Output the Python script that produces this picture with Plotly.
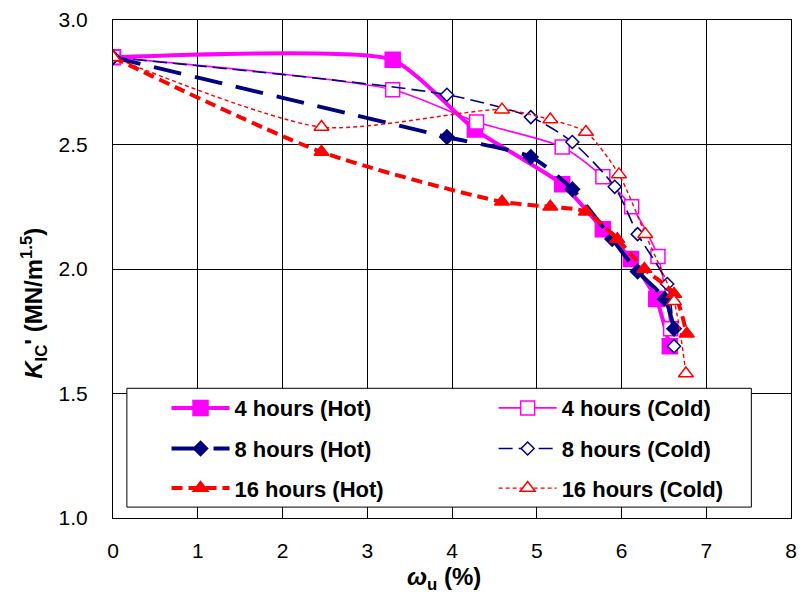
import plotly.graph_objects as go

# Fracture toughness K_IC' versus moisture content for each conditioning series
h4_hot_x = [0.00, 3.30, 4.27, 5.30, 5.78, 6.11, 6.41, 6.57]
h4_hot_y = [2.85, 2.84, 2.56, 2.34, 2.16, 2.04, 1.88, 1.69]

h4_cold_x = [0.00, 3.30, 4.29, 5.30, 5.78, 6.12, 6.43, 6.58]
h4_cold_y = [2.85, 2.72, 2.59, 2.49, 2.37, 2.25, 2.05, 1.76]

h8_hot_x = [0.00, 3.94, 4.93, 5.42, 5.89, 6.19, 6.51, 6.62]
h8_hot_y = [2.85, 2.53, 2.45, 2.32, 2.12, 1.99, 1.88, 1.76]

h8_cold_x = [0.00, 3.94, 4.93, 5.42, 5.92, 6.19, 6.54, 6.62]
h8_cold_y = [2.85, 2.70, 2.61, 2.51, 2.33, 2.14, 1.94, 1.69]

h16_hot_x = [0.00, 2.46, 4.59, 5.16, 5.58, 5.95, 6.27, 6.62, 6.77]
h16_hot_y = [2.85, 2.47, 2.27, 2.25, 2.23, 2.12, 2.00, 1.90, 1.74]

h16_cold_x = [0.00, 2.46, 4.59, 5.16, 5.58, 5.97, 6.28, 6.62, 6.76]
h16_cold_y = [2.85, 2.57, 2.64, 2.60, 2.55, 2.38, 2.14, 1.87, 1.58]

x_ticks = [0, 1, 2, 3, 4, 5, 6, 7, 8]
y_ticks = [1.0, 1.5, 2.0, 2.5, 3.0]

MAGENTA = "#FF00FF"
NAVY = "#000080"
RED = "#FF0000"
FONT = "Liberation Sans, Arial, sans-serif"

# plot area in pixels: x 113..797, y 15..518
def px_x(p):
    return (p - 113) / 684.0

def px_y(p):
    return (518 - p) / 503.0

# legend entry slots: (left pixel, row centre pixel)
COL1, COL2 = 167, 497
ROW1, ROW2, ROW3 = 407, 448, 488

# name, x, y, colour, line width, dash, marker symbol, marker size, filled, smoothing, legend slot
series = [
    ("4 hours (Hot)", h4_hot_x, h4_hot_y, MAGENTA, 4, "solid", "square", 15, True, 0.5, (COL1, ROW1)),
    ("4 hours (Cold)", h4_cold_x, h4_cold_y, MAGENTA, 1.6, "solid", "square", 14, False, 0.7, (COL2, ROW1)),
    ("8 hours (Hot)", h8_hot_x, h8_hot_y, NAVY, 4, "28px,14px", "diamond", 11, True, 0.7, (COL1, ROW2)),
    ("8 hours (Cold)", h8_cold_x, h8_cold_y, NAVY, 1.6, "14px,6px", "diamond", 10, False, 0.7, (COL2, ROW2)),
    ("16 hours (Hot)", h16_hot_x, h16_hot_y, RED, 4, "11px,6px", "triangle-up", 13, True, 0.7, (COL1, ROW3)),
    ("16 hours (Cold)", h16_cold_x, h16_cold_y, RED, 1.4, "4px,3px", "triangle-up", 13, False, 0.7, (COL2, ROW3)),
]

fig = go.Figure()
legends = {}
for i, (name, xs, ys, color, width, dash, symbol, size, filled, smooth, slot) in enumerate(series):
    leg = "legend" if i == 0 else f"legend{i + 1}"
    legends[leg] = dict(
        x=px_x(slot[0]), y=px_y(slot[1]), xanchor="left", yanchor="middle",
        orientation="v", bgcolor="rgba(0,0,0,0)", borderwidth=0,
        font=dict(family=FONT, size=22, color="black", weight="bold"),
        itemwidth=58,
    )
    fig.add_trace(go.Scatter(
        x=xs, y=ys, name=name, mode="lines+markers", legend=leg,
        line=dict(color=color, width=width, dash=dash, shape="spline", smoothing=smooth),
        marker=dict(symbol=symbol, size=size, color=color if filled else "white",
                    line=dict(color=color, width=1.5)),
    ))

axis_common = dict(
    showgrid=True, gridcolor="black", gridwidth=1,
    showline=True, linecolor="black", linewidth=1, mirror=True,
    zeroline=False, ticks="", tickfont=dict(family=FONT, size=21, color="black"),
)

fig.update_layout(
    width=805, height=606,
    margin=dict(l=113, r=8, t=15, b=88),
    paper_bgcolor="white", plot_bgcolor="white",
    font=dict(family=FONT, color="black"),
    xaxis=dict(range=[0, 8], tickvals=x_ticks, ticktext=[str(v) for v in x_ticks],
               ticklabelstandoff=14, **axis_common),
    yaxis=dict(range=[1.0, 3.0], tickvals=y_ticks, ticktext=[f"{v:.1f}" for v in y_ticks],
               ticklabelstandoff=20, **axis_common),
    showlegend=True,
    shapes=[dict(type="rect", xref="paper", yref="paper", layer="above",
                 x0=px_x(127), x1=px_x(757), y0=px_y(507), y1=px_y(387),
                 fillcolor="white", line=dict(color="black", width=1))],
    annotations=[
        dict(text="<b><i>ω</i><sub>u</sub> (%)</b>", x=px_x(447), y=px_y(579),
             xref="paper", yref="paper", xanchor="center", yanchor="middle",
             showarrow=False, font=dict(family=FONT, size=24)),
        dict(text="<b><i>K</i><sub>IC</sub>' (MN/m<sup>1.5</sup>)</b>", x=px_x(33), y=px_y(301),
             xref="paper", yref="paper", xanchor="center", yanchor="middle",
             textangle=-90, showarrow=False, font=dict(family=FONT, size=24)),
    ],
)
fig.update_layout(**legends)

fig.write_html("out.html")
